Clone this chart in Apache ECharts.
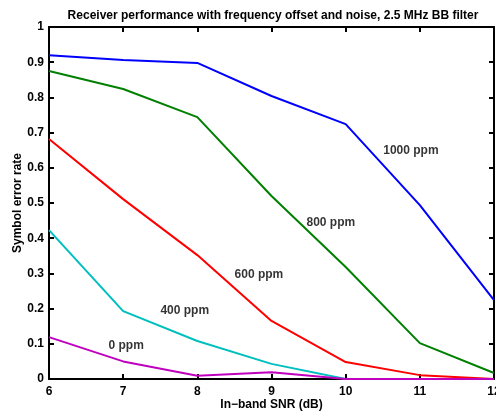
<!DOCTYPE html>
<html><head><meta charset="utf-8">
<script src="https://cdn.jsdelivr.net/npm/echarts@6/dist/echarts.min.js"></script>
<style>html,body{margin:0;padding:0;background:#fff}#c{width:496px;height:413px}</style>
</head><body><div id="c"></div>
<script>
const snr = [6, 7, 8, 9, 10, 11, 12];
const ppm1000 = [0.920, 0.906, 0.898, 0.804, 0.724, 0.494, 0.224];
const ppm800 = [0.875, 0.824, 0.744, 0.520, 0.318, 0.102, 0.017];
const ppm600 = [0.682, 0.511, 0.352, 0.165, 0.048, 0.011, 0.000];
const ppm400 = [0.423, 0.193, 0.108, 0.043, 0.000, 0.000, 0.000];
const ppm0 = [0.119, 0.050, 0.009, 0.019, 0.000, 0.000, 0.000];
const seriesNames = ['1000 ppm', '800 ppm', '600 ppm', '400 ppm', '0 ppm'];
const labelX = [10.88, 9.80, 8.83, 7.83, 7.04];
const labelY = [0.648, 0.443, 0.296, 0.194, 0.094];
const colors = ['#0000ff', '#008000', '#ff0000', '#00bfbf', '#bf00bf'];
const allData = [ppm1000, ppm800, ppm600, ppm400, ppm0];

const font = 'Liberation Sans, Arial, Helvetica, sans-serif';
const chart = echarts.init(document.getElementById('c'), null, {renderer: 'canvas'});
const axisCommon = {
  axisLine: {show: true, onZero: false, lineStyle: {color: '#000', width: 2}},
  axisTick: {show: true, inside: true, length: 5, lineStyle: {color: '#000', width: 2}},
  splitLine: {show: false}
};
const series = allData.map((d, i) => ({
  type: 'line', name: seriesNames[i], xAxisIndex: 0, yAxisIndex: 0,
  data: snr.map((x, j) => [x, d[j]]), showSymbol: false, symbol: 'none',
  lineStyle: {color: colors[i], width: 2}, z: 2
}));
series.push({
  type: 'scatter', xAxisIndex: 0, yAxisIndex: 0, symbolSize: 0,
  data: seriesNames.map((n, i) => ({value: [labelX[i], labelY[i]], name: n})),
  label: {show: true, position: 'inside', formatter: p => p.name,
    color: '#000', fontWeight: 'bold', fontSize: 12, fontFamily: font, textBorderWidth: 0},
  silent: true, z: 3
});
chart.setOption({
  animation: false,
  backgroundColor: '#fff',
  title: {text: 'Receiver performance with frequency offset and noise, 2.5 MHz BB filter',
    left: 268, textAlign: 'center', top: 5,
    textStyle: {fontSize: 12, fontWeight: 'bold', color: '#000', fontFamily: font}},
  grid: {left: 49, top: 27, right: 2, bottom: 34, containLabel: false, outerBoundsMode: 'none'},
  xAxis: [
    Object.assign({type: 'value', position: 'bottom', min: 6, max: 12, interval: 1,
      name: 'In\u2212band SNR (dB)', nameLocation: 'middle', nameGap: 20, nameMoveOverlap: false,
      nameTextStyle: {fontSize: 12, fontWeight: 'bold', color: '#000', fontFamily: font},
      axisLabel: {color: '#000', fontSize: 12, fontWeight: 'bold', fontFamily: font, margin: 7}}, axisCommon),
    Object.assign({type: 'value', position: 'top', min: 6, max: 12, interval: 1,
      axisLabel: {show: false}}, axisCommon)
  ],
  yAxis: [
    Object.assign({type: 'value', position: 'left', min: 0, max: 1, interval: 0.1,
      name: 'Symbol error rate', nameLocation: 'middle', nameGap: 25, nameMoveOverlap: false,
      nameTextStyle: {fontSize: 12, fontWeight: 'bold', color: '#000', fontFamily: font},
      axisLabel: {color: '#000', fontSize: 12, fontWeight: 'bold', fontFamily: font, margin: 5,
        formatter: v => (Math.round(v * 10) / 10).toString()}}, axisCommon),
    Object.assign({type: 'value', position: 'right', min: 0, max: 1, interval: 0.1,
      axisLabel: {show: false}}, axisCommon)
  ],
  series: series
});
</script></body></html>
